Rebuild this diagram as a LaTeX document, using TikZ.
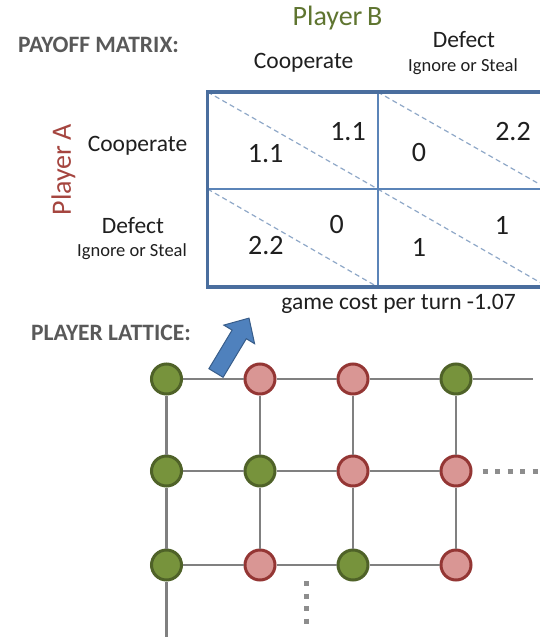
\documentclass[tikz,border=0pt]{standalone}
\usepackage{fontspec}
\setmainfont{Carlito}
\definecolor{headgray}{HTML}{595959}
\definecolor{pbgreen}{HTML}{5F7530}
\definecolor{pared}{HTML}{A5453F}
\definecolor{mborderc}{HTML}{4A6E9E}
\definecolor{mgridc}{HTML}{5B84B8}
\definecolor{diagc}{HTML}{8FA8C8}
\definecolor{gfill}{HTML}{77933C}
\definecolor{gdraw}{HTML}{4F6228}
\definecolor{pfill}{HTML}{D99694}
\definecolor{pdraw}{HTML}{943634}
\definecolor{edgec}{HTML}{808080}
\definecolor{arrfill}{HTML}{4F81BD}
\definecolor{arrdraw}{HTML}{385D8A}
\begin{document}
\begin{tikzpicture}[x=1pt,y=-1pt,
  txt/.style={inner sep=0pt, text=black!88},
  heading/.style={inner sep=0pt, text=headgray, font=\fontsize{23.5}{27}\selectfont\bfseries},
  label/.style={txt, font=\fontsize{23.5}{27}\selectfont},
  small/.style={txt, font=\fontsize{18.5}{22}\selectfont},
  num/.style={txt, font=\fontsize{28}{32}\selectfont},
  mborder/.style={draw=mborderc, line width=3.5pt},
  mgrid/.style={draw=mgridc, line width=2pt},
  diag/.style={draw=diagc, line width=1.2pt, dash pattern=on 5pt off 3.5pt},
  gnode/.style={circle, minimum size=30pt, inner sep=0pt, fill=gfill, draw=gdraw, line width=3pt},
  pnode/.style={circle, minimum size=30pt, inner sep=0pt, fill=pfill, draw=pdraw, line width=3pt},
  edge/.style={draw=edgec, line width=2.2pt},
  dotsh/.style={draw=edgec!90, line width=5pt, dash pattern=on 5pt off 7.5pt},
  blockarrow/.style={fill=arrfill, draw=arrdraw, line width=1pt, line join=miter}
]
\clip (0,0) rectangle (540,637);
\fill[white] (0,0) rectangle (540,637);

% ---- headings ----
\node[heading] (payoff) at (98.5,45) {PAYOFF MATRIX:};
\node[heading] (lattice) at (111,333) {PLAYER LATTICE:};

\node[inner sep=0pt, text=pbgreen, font=\fontsize{28}{32}\selectfont] (pB) at (337.5,18) {Player\,B};
\node[inner sep=0pt, text=pared, font=\fontsize{28}{32}\selectfont, rotate=90] (pA) at (63.5,170) {Player\,A};

\node[label] (colC) at (303.6,63) {Cooperate};
\node[label] (colD) at (464,40) {Defect};
\node[small] (colDs) at (463,67) {Ignore or Steal};

\node[label] (rowC) at (137.5,146) {Cooperate};
\node[label] (rowD) at (133,226) {Defect};
\node[small] (rowDs) at (132,252) {Ignore or Steal};

% ---- payoff matrix ----
\coordinate (TL) at (207.6,92);
\coordinate (TM) at (377.7,92);
\coordinate (TR) at (548,92);
\coordinate (ML) at (207.6,189);
\coordinate (MM) at (377.7,189);
\coordinate (MR) at (548,189);
\coordinate (BL) at (207.6,287);
\coordinate (BM) at (377.7,287);
\coordinate (BR) at (548,287);

\draw[diag] (TL) -- (MM);
\draw[diag] (TM) -- (MR);
\draw[diag] (ML) -- (BM);
\draw[diag] (MM) -- (BR);
\draw[mgrid] (TM) -- (BM);
\draw[mgrid] (ML) -- (MR);
\draw[mborder] (TL) rectangle (BR);

\node[num] (a11) at (265.7,154) {1.1};
\node[num] (b11) at (348,132) {1.1};
\node[num] (a12) at (419,153) {0};
\node[num] (b12) at (513,132) {2.2};
\node[num] (a21) at (265.8,246) {2.2};
\node[num] (b21) at (336.8,225) {0};
\node[num] (a22) at (419,247) {1};
\node[num] (b22) at (502,225) {1};

\node[label] (cost) at (398.6,304) {game cost per turn -1.07};

% ---- block arrow ----
\draw[blockarrow] (208.9,368.7) -- (232.1,330.1) -- (223.8,325.1) -- (249,318.1)
  -- (254.6,343.7) -- (246.3,338.7) -- (223.1,377.3) -- cycle;

% ---- lattice ----
\node[gnode] (n11) at (166.5,379) {};
\node[pnode] (n12) at (260,379) {};
\node[pnode] (n13) at (353,379) {};
\node[gnode] (n14) at (456,379) {};
\node[gnode] (n21) at (166.5,471) {};
\node[gnode] (n22) at (260,471) {};
\node[pnode] (n23) at (353,471) {};
\node[pnode] (n24) at (456,471) {};
\node[gnode] (n31) at (166.5,565) {};
\node[pnode] (n32) at (260,565) {};
\node[gnode] (n33) at (353,565) {};
\node[pnode] (n34) at (456,565) {};

\coordinate (e1) at (533,379);
\coordinate (e2) at (166.5,645);
\coordinate (d1a) at (482.5,471);
\coordinate (d1b) at (560,471);
\coordinate (d2a) at (306,581);
\coordinate (d2b) at (306,630);

\begin{scope}[on background layer/.style={}]
\foreach \r in {1,2,3}{
  \draw[edge] (n\r1) -- (n\r2);
  \draw[edge] (n\r2) -- (n\r3);
  \draw[edge] (n\r3) -- (n\r4);
}
\foreach \c in {1,2,3,4}{
  \draw[edge] (n1\c) -- (n2\c);
  \draw[edge] (n2\c) -- (n3\c);
}
\end{scope}
\draw[edge] (n14) -- (e1);
\draw[edge] (n31) -- (e2);
\draw[dotsh] (d1a) -- (d1b);
\draw[dotsh] (d2a) -- (d2b);
\end{tikzpicture}
\end{document}
